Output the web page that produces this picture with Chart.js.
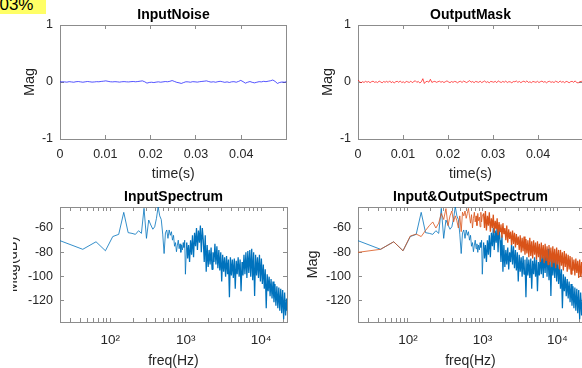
<!DOCTYPE html>
<html>
<head>
<meta charset="utf-8">
<script src="https://cdn.jsdelivr.net/npm/chart.js@4.4.0/dist/chart.umd.min.js"></script>
<style>
html, body { margin:0; padding:0; background:#fff; overflow:hidden; width:582px; height:368px; }
body { position:relative; }
canvas { position:absolute; }
#zoomTag { position:absolute; left:0; top:0; width:46px; height:14px; background:#ffff66; overflow:hidden; z-index:5; }
#zoomTag span { position:absolute; left:-10px; top:-4px; font:17px 'Liberation Sans', Arial, sans-serif; line-height:17px; color:#000; white-space:nowrap; }
#clipBL { position:absolute; left:13px; top:180px; width:340px; height:188px; overflow:hidden; }
</style>
</head>
<body>
<canvas id="cTL" width="347" height="185" style="left:0;top:0"></canvas>
<canvas id="cTR" width="345" height="185" style="left:298px;top:0"></canvas>
<div id="clipBL"><canvas id="cBL" width="347" height="188" style="left:-13px;top:0"></canvas></div>
<canvas id="cBR" width="345" height="188" style="left:298px;top:180px"></canvas>
<div id="zoomTag"><span>503%</span></div>
<script>
// Time signals (sampled, small amplitude noise)
const noiseStep = 0.000505;   // s between samples of the input noise
const maskStep = 0.000335;    // s between samples of the output mask
const inputNoise = [
  0, 0.004, 0.002, -0.003, 0.006, 0.001, -0.004, 0.005, 0.008, 0.002,
  -0.004, 0.003, 0.009, 0.004, -0.002, 0.001, 0.006, 0.004, 0.010, 0.014,
  0.020, 0.012, 0.004, 0.002, 0.006, 0.003, -0.002, 0.004, 0.007, 0.003,
  0.001, 0.006, 0.009, 0.004, 0.008, 0.014, 0.020, 0.004, -0.020, -0.008,
  -0.004, -0.010, -0.002, 0.003, -0.004, 0.002, 0.008, 0.004, 0.012, 0.025,
  0.010, -0.006, -0.014, -0.025, -0.010, 0.004, 0.002, -0.004, 0.006, 0.003,
  -0.002, 0.005, 0.010, 0.014, 0.020, 0.008, -0.002, 0.004, -0.004, 0.006,
  0.012, 0.004, -0.006, 0.002, -0.008, 0.003, 0.006, -0.004, 0.010, 0.028,
  0.006, -0.020, -0.004, 0.008, -0.006, -0.015, -0.004, 0.006, 0.002, 0.012,
  0.006, 0.014, 0.022, 0.035, 0.010, -0.025, -0.008, 0.000, -0.004, 0.005
];
const outputMask = [
  0.035, 0.01, -0.015, 0.005, -0.008, 0.012, -0.004, 0.008, -0.012, 0.006,
  0.014, -0.006, 0.004, -0.01, 0.016, 0.002, -0.014, 0.008, -0.004, 0.012,
  -0.008, 0.02, -0.012, 0.006, -0.016, 0.004, 0.012, -0.006, 0.018, -0.01,
  0.004, -0.014, 0.01, 0.002, -0.008, 0.016, -0.012, 0.008, 0.022, -0.006,
  0.01, -0.018, 0.004, 0.058, -0.026, 0.006, 0.012, -0.004, 0.047, -0.008,
  0.006, 0.012, -0.006, 0.004, 0.014, -0.004, 0.008, -0.01, 0.006, 0.02,
  0.002, -0.012, 0.008, -0.006, 0.01, 0.004, -0.014, 0.006, 0.012, -0.008,
  0.016, 0.004, -0.01, 0.006, 0.024, -0.004, 0.008, -0.012, 0.01, 0.002,
  -0.006, 0.014, -0.01, 0.004, 0.018, -0.008, 0.006, -0.014, 0.01, 0.004,
  -0.004, 0.012, -0.012, 0.02, 0.002, -0.008, 0.01, -0.004, 0.016, -0.01,
  0.006, 0.002, -0.014, 0.008, 0.004, 0.018, -0.006, 0.01, -0.012, 0.006,
  0.014, -0.004, 0.02, -0.008, 0.004, -0.012, 0.01, 0.002, -0.006, 0.012,
  -0.01, 0.006, 0.016, -0.004, 0.008, -0.014, 0.006, 0.012, -0.006, 0.004,
  -0.01, 0.014, 0.002, -0.008, 0.018, -0.004, 0.008, -0.012, 0.01, 0.004,
  -0.014, 0.006, 0.012, -0.006, 0.02, -0.01, -0.016, 0.004, 0.012, 0.006
];

// Spectra (Hz, dB)
const specFreq = [
  21.5, 43.1, 64.6, 86.1, 107.7, 129.2, 150.7, 172.3, 193.8, 215.3,
  236.9, 258.4, 279.9, 301.5, 323.0, 344.5, 366.1, 387.6, 409.1, 430.7,
  452.2, 473.7, 495.3, 516.8, 538.3, 559.9, 581.4, 602.9, 624.5, 646.0,
  667.5, 689.1, 710.6, 732.1, 753.7, 775.2, 796.7, 818.3, 839.8, 861.3,
  882.9, 904.4, 925.9, 947.5, 969.0, 990.5,
  1030, 1060, 1090, 1125, 1160, 1195, 1230, 1270, 1310, 1350,
  1390, 1430, 1475, 1520, 1565, 1610, 1660, 1710, 1760, 1815,
  1870, 1925, 1985, 2045, 2105, 2170, 2235, 2300, 2370, 2440,
  2515, 2590, 2670, 2750, 2830, 2915, 3000, 3090, 3185, 3280,
  3380, 3480, 3585, 3690, 3800, 3915, 4035, 4155, 4280, 4410,
  4540, 4675, 4815, 4960, 5110, 5265, 5420, 5585, 5750, 5925,
  6100, 6285, 6475, 6665, 6865, 7075, 7285, 7505, 7730, 7960,
  8200, 8445, 8700, 8960, 9230, 9505, 9790, 10085, 10390, 10700,
  11020, 11350, 11690, 12040, 12400, 12775, 13160, 13555, 13960, 14380,
  14810, 15255, 15710, 16185, 16670, 17170, 17685, 18215, 18760, 19320,
  19900, 20500, 21115, 21750, 22050
];
const inputSpec = [
  -70.4, -77.5, -71.3, -78.7, -67, -65.2, -47.1, -63.8, -64.4, -65.2,
  -62.2, -64.4, -43.8, -68.5, -53.4, -57.5, -61, -59, -52, -42.5,
  -50, -53, -65, -81, -64, -61.6, -68.5, -61.6, -66, -63,
  -70, -66, -75, -72, -79.5, -74, -70, -77, -73, -80,
  -74, -78, -72, -76, -70, -98,
  -72, -85, -74, -88, -70, -82, -66, -84, -64, -75,
  -60, -78, -62, -72, -58, -80, -60, -70, -88, -66,
  -96, -74, -92, -78, -90, -76, -94, -80, -88, -73,
  -90, -75, -93, -78, -95, -80, -104, -82, -96, -84,
  -100, -83, -98, -86, -117, -84, -99, -86, -101, -85,
  -110, -87, -98, -84, -100, -86, -112, -88, -99, -82,
  -98, -80, -101, -79, -97, -78, -100, -77, -103, -80,
  -116, -82, -99, -84, -101, -82, -104, -85, -106, -90,
  -110, -94, -126, -98, -112, -100, -116, -102, -118, -104,
  -121, -106, -124, -108, -126, -109, -128, -110, -130, -111,
  -135, -113, -132, -118, -128
];
const outputSpec = [
  -80, -77.5, -71.3, -78.7, -66.6, -65, -67, -62, -58, -55,
  -60, -56, -48, -53, -44, -58, -50, -46, -55, -50,
  -54, -60, -50, -63, -47, -50, -46, -52, -48, -43.8,
  -50, -56, -49, -60, -52, -47, -55, -50, -58, -48,
  -54, -51, -59, -47, -55, -50,
  -48, -60, -46, -62, -50, -58, -47, -63, -52, -60,
  -49, -64, -54, -61, -52, -66, -55, -63, -57, -68,
  -56, -65, -60, -70, -58, -72, -61, -69, -63, -74,
  -62, -73, -64, -76, -65, -74, -67, -78, -66, -80,
  -68, -79, -67, -82, -69, -81, -70, -84, -68, -83,
  -71, -85, -70, -82, -72, -86, -71, -84, -73, -88,
  -72, -85, -74, -89, -73, -87, -75, -90, -74, -88,
  -76, -92, -75, -89, -77, -93, -76, -90, -78, -94,
  -78, -91, -80, -95, -79, -92, -81, -96, -82, -94,
  -83, -98, -84, -95, -86, -99, -85, -97, -87, -101,
  -86, -100, -88, -103, -92
];

// Axis ticks
const timeTicks = [0, 0.01, 0.02, 0.03, 0.04];
const magTicks = [-1, 0, 1];
const freqTicks = [30, 40, 50, 60, 70, 80, 90, 100, 200, 300, 400, 500, 600, 700, 800, 900,
  1000, 2000, 3000, 4000, 5000, 6000, 7000, 8000, 9000, 10000, 20000];
const freqLabels = {100: '10²', 1000: '10³', 10000: '10⁴'};
const dbTicks = [-120, -100, -80, -60];

const FONT = "'Liberation Sans', Arial, Helvetica, sans-serif";
const FRAME = '#8c8c8c';
const INK = '#262626';

function series(step, values) {
  return values.map((v, i) => ({x: i * step, y: v}));
}
function spectrum(values) {
  return values.map((v, i) => ({x: specFreq[i], y: v}));
}

function tickGrid() {
  return {drawOnChartArea: false, drawTicks: true, tickLength: -4, color: FRAME, lineWidth: 1};
}

function buildOptions(p) { // p holds the per-panel layout numbers
  const xBase = {
    type: p.xType, min: p.xMin, max: p.xMax,
    afterBuildTicks: s => { s.ticks = p.xTicks.map(v => ({value: v})); },
    grid: tickGrid(),
    border: {display: true, color: FRAME, width: 1}
  };
  const yBase = {
    type: 'linear', min: p.yMin, max: p.yMax,
    afterBuildTicks: s => { s.ticks = p.yTicks.map(v => ({value: v})); },
    grid: tickGrid(),
    border: {display: true, color: FRAME, width: 1}
  };
  return {
    responsive: false,
    animation: false,
    devicePixelRatio: 1,
    events: [],
    layout: {padding: 0},
    elements: {point: {radius: 0}, line: {tension: 0}},
    plugins: {
      legend: {display: false},
      tooltip: {enabled: false},
      title: {
        display: true, text: p.title, color: '#000',
        font: {family: FONT, size: 14, weight: 'bold'},
        padding: {top: p.titleTop, bottom: p.titleBottom}
      }
    },
    scales: {
      x: Object.assign({}, xBase, {
        position: 'bottom',
        afterFit: s => { s.height = p.xHeight; },
        ticks: {
          autoSkip: false, maxRotation: 0, padding: p.xTickPad, color: INK,
          font: {family: FONT, size: p.xTickSize},
          callback: p.xFormat
        },
        title: {
          display: true, text: p.xTitle, color: INK,
          font: {family: FONT, size: 14}, padding: {top: 0, bottom: p.xTitlePad}
        }
      }),
      xTop: Object.assign({}, xBase, {
        position: 'top',
        afterFit: s => { s.height = 0; },
        ticks: {display: false}
      }),
      y: Object.assign({}, yBase, {
        position: 'left',
        afterFit: s => { s.width = 60; },
        ticks: {
          autoSkip: false, padding: 11, color: INK,
          font: {family: FONT, size: 12.5},
          callback: v => String(v)
        },
        title: {
          display: true, text: p.yTitle, color: INK,
          font: {family: FONT, size: 14.5}, padding: {top: p.yTitlePad, bottom: 0}
        }
      }),
      // right frame; its width mirrors the left one so the title sits over the plot
      yRight: Object.assign({}, yBase, {
        position: 'right',
        afterFit: s => { s.width = p.rightWidth; },
        ticks: {display: false}
      })
    }
  };
}

const timeFormat = v => (v === 0 ? '0' : v.toFixed(2));
const freqFormat = v => freqLabels[v] || '';

const timePanel = {
  xType: 'linear', xMin: 0, xMax: 0.04998, xTicks: timeTicks, xFormat: timeFormat, xTickSize: 12.5,
  xTitle: 'time(s)', yMin: -1, yMax: 1, yTicks: magTicks, yTitle: 'Mag',
  titleTop: 6.5, titleBottom: 1.7, xHeight: 46, xTickPad: 12.5, xTitlePad: 2, yTitlePad: 20.8
};
const specPanel = {
  xType: 'logarithmic', xMin: 21.5, xMax: 22050, xTicks: freqTicks, xFormat: freqFormat, xTickSize: 13.5,
  xTitle: 'freq(Hz)', yMin: -137.3, yMax: -42.7, yTicks: dbTicks,
  titleTop: 8.8, titleBottom: 1.4, xHeight: 46, xTickPad: 14, xTitlePad: -2
};

function lineSet(data, color, width, order) {
  return {
    data: data, borderColor: color, borderWidth: width, fill: false, pointRadius: 0, order: order,
    borderJoinStyle: 'bevel',
    // the dense part of a spectrum is drawn a little thicker so it reads as a filled band
    segment: {borderWidth: ctx => (ctx.p0.parsed.x >= 1000 ? width + 0.45 : width)}
  };
}

new Chart(document.getElementById('cTL'), {
  type: 'line',
  data: {datasets: [lineSet(series(noiseStep, inputNoise), 'rgba(0,0,255,0.75)', 0.9, 1)]},
  options: buildOptions(Object.assign({}, timePanel, {title: 'InputNoise', rightWidth: 60.5}))
});

new Chart(document.getElementById('cTR'), {
  type: 'line',
  data: {datasets: [lineSet(series(maskStep, outputMask), 'rgba(255,0,0,0.75)', 0.9, 1)]},
  options: buildOptions(Object.assign({}, timePanel, {title: 'OutputMask', rightWidth: 60}))
});

new Chart(document.getElementById('cBL'), {
  type: 'line',
  data: {datasets: [lineSet(spectrum(inputSpec), '#0072BD', 0.8, 1)]},
  options: buildOptions(Object.assign({}, specPanel, {title: 'InputSpectrum', rightWidth: 60, yTitle: 'Mag(dB)', yTitlePad: 4.6}))
});

new Chart(document.getElementById('cBR'), {
  type: 'line',
  data: {datasets: [
    lineSet(spectrum(inputSpec), '#0072BD', 0.8, 2),
    lineSet(spectrum(outputSpec), '#D95319', 0.8, 1)
  ]},
  options: buildOptions(Object.assign({}, specPanel, {title: 'Input&OutputSpectrum', rightWidth: 60, yTitle: 'Mag', yTitlePad: 6.6}))
});
</script>
</body>
</html>
